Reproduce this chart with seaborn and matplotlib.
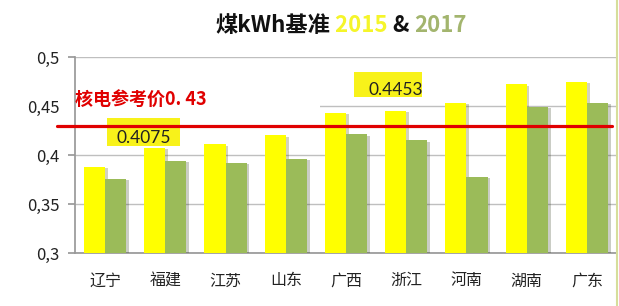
import matplotlib
matplotlib.use("Agg")
import matplotlib.pyplot as plt
import matplotlib.patheffects as pe
from matplotlib.lines import Line2D
from matplotlib.patches import Rectangle
import seaborn as sns
import pandas as pd

provinces = ["辽宁", "福建", "江苏", "山东", "广西", "浙江", "河南", "湖南", "广东"]
v2015 = [0.388, 0.4075, 0.411, 0.420, 0.443, 0.4453, 0.453, 0.472, 0.4745]
v2017 = [0.376, 0.394, 0.392, 0.396, 0.421, 0.415, 0.378, 0.449, 0.453]
years = ["2015", "2017"]
ref_price = 0.43
ref_label = "核电参考价0. 43"
y_ticks = [0.3, 0.35, 0.4, 0.45, 0.5]
y_tick_labels = ["0,3", "0,35", "0,4", "0,45", "0,5"]

YELLOW = "#FFFF00"
GREEN = "#9BBB59"

df = pd.DataFrame({
    "province": provinces * 2,
    "value": v2015 + v2017,
    "year": [years[0]] * len(provinces) + [years[1]] * len(provinces),
})

sns.set_theme(style="white")
plt.rcParams["font.family"] = ["Noto Sans CJK SC", "DejaVu Sans"]

W, H = 619, 306
fig = plt.figure(figsize=(W / 100, H / 100), dpi=100)
ax = fig.add_axes([75 / W, 1 - 253 / H, (617 - 75) / W, (253 - 57) / H])

sns.barplot(data=df, x="province", y="value", hue="year", palette=[YELLOW, GREEN],
            width=0.7, gap=0, legend=False, ax=ax, zorder=3, saturation=1)
for p in ax.patches:
    p.set_path_effects([pe.SimplePatchShadow(offset=(2, -1), alpha=0.25), pe.Normal()])
    p.set_edgecolor("none")

ax.set_ylim(0.3, 0.5)
ax.set_xlim(-0.5, len(provinces) - 0.5)
ax.set_yticks(y_ticks)
ax.set_yticklabels(y_tick_labels, fontsize=12, color="#222222")
ax.set_xticks(range(len(provinces)))
ax.set_xticklabels(provinces, fontsize=11.5, color="#222222")
ax.set_xlabel("")
ax.set_ylabel("")
ax.set_xticks([i - 0.5 for i in range(len(provinces) + 1)], minor=True)
ax.tick_params(axis="x", which="major", length=0, pad=14)
ax.tick_params(axis="x", which="minor", length=5, color="#999999", direction="out")
ax.tick_params(axis="y", length=5, color="#999999", direction="out", left=True, pad=6)
ax.yaxis.grid(True, color="#BFBFBF", linewidth=1, zorder=0)
ax.set_axisbelow(True)
for s in ["top", "right"]:
    ax.spines[s].set_visible(False)
ax.spines["left"].set_color("#999999")
ax.spines["bottom"].set_color("#999999")

# white box behind the reference label
ax.add_patch(Rectangle((-0.62, 0.4405), 4.19, 0.0275, facecolor="white",
                       edgecolor="none", zorder=2, clip_on=False))
ax.text(-0.5, 0.4555, ref_label, color="#E00000", fontsize=13, fontweight="bold",
        va="center", ha="left", zorder=6)

# yellow value boxes
ax.add_patch(Rectangle((0.03, 0.4087), 1.21, 0.0287, facecolor="#F8F21A",
                       edgecolor="none", zorder=4))
ax.text(0.64, 0.4175, "0.4075", fontsize=12.5, color="#222222", ha="center",
        va="center", zorder=5, family=["Lato", "DejaVu Sans"])
ax.add_patch(Rectangle((4.13, 0.459), 1.13, 0.0256, facecolor="#F8F21A",
                       edgecolor="none", zorder=4, clip_on=False))
ax.text(4.82, 0.4665, "0.4453", fontsize=12.5, color="#222222", ha="center",
        va="center", zorder=5, family=["Lato", "DejaVu Sans"])

# reference line
ax.plot([-0.8, len(provinces) - 0.58], [ref_price, ref_price], color="#E00000",
        linewidth=2.3, zorder=7, clip_on=False)

# right border
fig.add_artist(Line2D([617 / W, 617 / W], [0, 1], color="#D6DE9A", linewidth=1.5))

# multi-coloured title
parts = [("煤kWh基准", "#111111"), (" 2015", "#F5F52A"), (" & ", "#111111"), ("2017", "#A3B56E")]
fig.canvas.draw()
r = fig.canvas.get_renderer()
texts = []
for s, c in parts:
    t = fig.text(0, 1 - 25 / H, s, color=c, fontsize=16, fontweight="bold",
                 va="center", ha="left")
    texts.append(t)
widths = [t.get_window_extent(renderer=r).width for t in texts]
total = sum(widths)
x = 341 - total / 2
for t, w in zip(texts, widths):
    t.set_x(x / W)
    x += w

fig.savefig("out.png", dpi=100, facecolor="white")
